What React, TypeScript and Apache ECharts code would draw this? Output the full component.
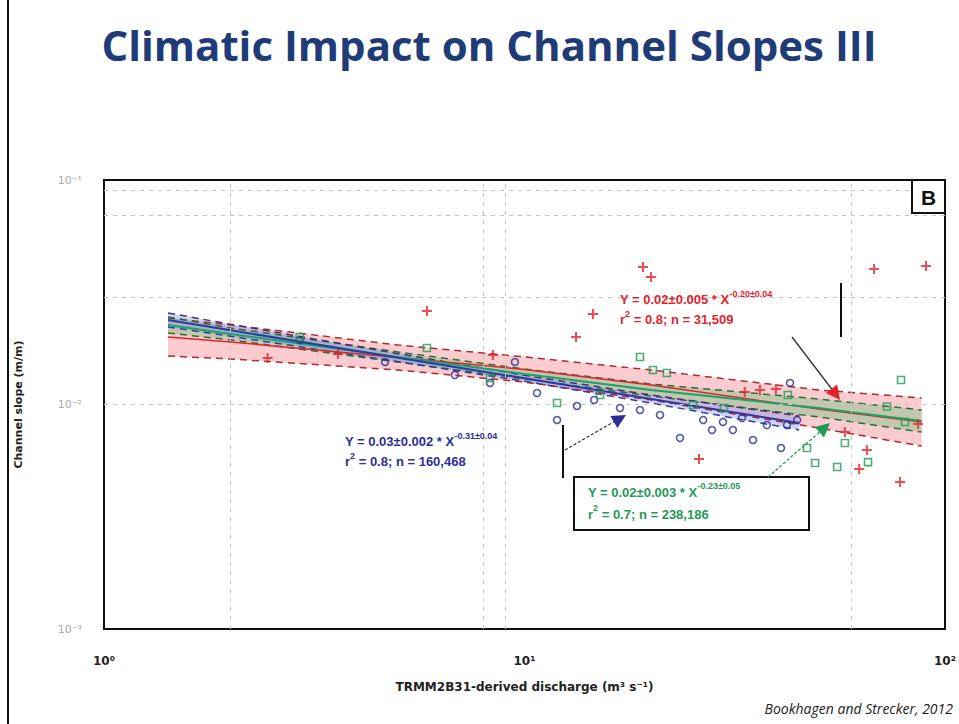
import React, { useEffect, useRef } from "react";
import * as echarts from "echarts";

// ---- Data ----
// discharge (m^3 s^-1) and channel slope (m/m)
const redX = [2.45, 3.6, 5.86, 8.41, 13.26, 14.55, 19.13, 20.0, 26.0, 33.4, 36.3, 39.6, 57.8, 62.5, 65.2, 67.8, 78.2, 86.3, 90.1];
const redY = [0.0161, 0.0168, 0.0261, 0.01662, 0.01999, 0.0253, 0.041, 0.037, 0.00572, 0.01137, 0.01161, 0.01173, 0.00754, 0.00516, 0.00627, 0.0401, 0.00452, 0.00818, 0.0414];

const blueX = [2.92, 4.66, 6.83, 8.28, 9.49, 10.71, 11.95, 13.33, 14.64, 16.87, 18.82, 21.0, 23.43, 26.6, 27.92, 29.65, 31.3, 32.9, 34.95, 37.7, 40.74, 42.1, 42.8, 44.5];
const blueY = [0.01938, 0.01546, 0.01354, 0.01247, 0.01546, 0.01125, 0.00853, 0.00985, 0.01047, 0.00965, 0.00945, 0.00898, 0.00709, 0.00853, 0.0077, 0.00836, 0.0077, 0.00871, 0.00695, 0.0081, 0.0064, 0.0081, 0.01247, 0.00853];

const greenX = [2.92, 5.86, 8.28, 11.95, 15.12, 18.82, 20.2, 21.8, 25.16, 29.8, 42.3, 46.97, 49.1, 55.4, 57.8, 65.6, 72.8, 78.6, 80.3];
const greenY = [0.01999, 0.01785, 0.01312, 0.01015, 0.01102, 0.01628, 0.01425, 0.01381, 0.00995, 0.00965, 0.01102, 0.0064, 0.00549, 0.00527, 0.00674, 0.00554, 0.0098, 0.01285, 0.00836];

// regression fits and confidence bands
const redBandX = [1.42, 2, 5, 10, 20, 50, 88];
const redUpper = [0.02428, 0.0226, 0.01841, 0.01629, 0.01425, 0.01161, 0.01069];
const redLower = [0.01644, 0.01595, 0.01425, 0.01259, 0.01047, 0.00786, 0.00653];
const redFit = [0.01998, 0.01899, 0.0162, 0.01432, 0.01221, 0.00955, 0.00835];

const blueBandX = [1.42, 2, 5, 10, 20, 45];
const blueUpper = [0.02557, 0.02277, 0.01684, 0.01349, 0.01102, 0.00889];
const blueLower = [0.02214, 0.02013, 0.01551, 0.01269, 0.01015, 0.0077];
const blueFit = [0.02378, 0.02141, 0.01616, 0.01309, 0.01058, 0.00827];

const greenBandX = [1.42, 2, 5, 10, 20, 50, 88];
const greenUpper = [0.02453, 0.02192, 0.01714, 0.01439, 0.01234, 0.01058, 0.00945];
const greenLower = [0.02083, 0.01938, 0.01546, 0.01299, 0.01091, 0.0088, 0.00754];
const greenFit = [0.0226, 0.02061, 0.01628, 0.01368, 0.01161, 0.00965, 0.00844];

// extra dashed grid lines
const xGrid = [2, 8, 9, 60];
const yGrid = [0.0893, 0.0713, 0.0301, 0.01, 0.0051];

const xTickLabels: Record<string, string> = { "0": "10⁰", "1": "10¹", "2": "10²" };
const yTickLabels: Record<string, string> = { "-1": "10⁻¹", "-2": "10⁻²", "-3": "10⁻³" };

const redText = ["Y = 0.02±0.005 * X", "-0.20±0.04", "r", "2", " = 0.8; n = 31,509"];
const blueText = ["Y = 0.03±0.002 * X", "-0.31±0.04", "r", "2", " = 0.8; n = 160,468"];
const greenText = ["Y = 0.02±0.003 * X", "-0.23±0.05", "r", "2", " = 0.7; n = 238,186"];

const zip = (xs: number[], ys: number[]) => xs.map((x, i) => [x, ys[i]]);

const RED = "#e5222b";
const BLUE = "#2b2f96";
const GREEN = "#1f9a55";

function bandSeries(xs: number[], up: number[], lo: number[], fill: string) {
  return {
    type: "custom",
    silent: true,
    clip: true,
    z: 1,
    data: [[xs[0], up[0]]],
    renderItem: (_p: any, api: any) => {
      const top = xs.map((x, i) => api.coord([x, up[i]]));
      const bot = xs.map((x, i) => api.coord([x, lo[i]])).reverse();
      return {
        type: "polygon",
        shape: { points: top.concat(bot) },
        style: { fill },
      };
    },
  };
}

function lineSeries(xs: number[], ys: number[], color: string, dashed: boolean, width: number, z: number) {
  return {
    type: "line",
    data: zip(xs, ys),
    showSymbol: false,
    silent: true,
    z,
    lineStyle: { color, width, type: dashed ? [7, 5] : "solid" },
  };
}

function head(fx: number, fy: number, tx: number, ty: number, size: number, color: string) {
  const a = Math.atan2(ty - fy, tx - fx);
  const w = size * 0.5;
  const bx = tx - size * Math.cos(a);
  const by = ty - size * Math.sin(a);
  const px = -Math.sin(a) * w;
  const py = Math.cos(a) * w;
  return {
    type: "polygon",
    z: 100,
    shape: { points: [[tx, ty], [bx + px, by + py], [bx - px, by - py]] },
    style: { fill: color },
  };
}

function richNote(x: number, y: number, t: string[], color: string, lh: number) {
  return {
    type: "text",
    x,
    y,
    z: 100,
    style: {
      text: `{m|${t[0]}}{s|${t[1]}}\n{m|${t[2]}}{s|${t[3]}}{m|${t[4]}}`,
      textVerticalAlign: "top",
      verticalAlign: "top",
      rich: {
        m: { fontSize: 13, fontWeight: "bold", fontFamily: "Liberation Sans", fill: color, color, lineHeight: lh },
        s: { fontSize: 9, fontWeight: "bold", fontFamily: "Liberation Sans", fill: color, color, lineHeight: 11, verticalAlign: "top" },
      },
    },
  };
}

export default function App() {
  const ref = useRef<HTMLDivElement>(null);

  useEffect(() => {
    if (!ref.current) return;
    const chart = echarts.init(ref.current, null, { renderer: "svg" });

    const option: any = {
      animation: false,
      backgroundColor: "#ffffff",
      grid: {
        left: 104,
        top: 180,
        width: 841,
        height: 449,
        show: true,
        borderColor: "#111",
        borderWidth: 2,
        backgroundColor: "transparent",
      },
      xAxis: {
        type: "log",
        logBase: 10,
        min: 1,
        max: 100,
        axisLine: { show: false },
        axisTick: { show: false },
        splitLine: { show: false },
        axisLabel: {
          showMinLabel: true,
          showMaxLabel: true,
          margin: 26,
          color: "#222",
          fontSize: 12,
          fontWeight: "bold",
          fontFamily: "DejaVu Sans",
          formatter: (v: number) => xTickLabels[String(Math.round(Math.log10(v)))] || "",
        },
        name: "TRMM2B31-derived discharge (m³ s⁻¹)",
        nameLocation: "middle",
        nameGap: 52,
        nameTextStyle: { color: "#222", fontSize: 12, fontWeight: "bold", fontFamily: "DejaVu Sans" },
      },
      yAxis: {
        type: "log",
        logBase: 10,
        min: 0.001,
        max: 0.1,
        axisLine: { show: false },
        axisTick: { show: false },
        splitLine: { show: false },
        axisLabel: {
          showMinLabel: true,
          showMaxLabel: true,
          margin: 22,
          color: "#a8a8a8",
          fontSize: 11,
          fontFamily: "DejaVu Sans",
          formatter: (v: number) => yTickLabels[String(Math.round(Math.log10(v)))] || "",
        },
        name: "Channel slope (m/m)",
        nameLocation: "middle",
        nameGap: 80,
        nameTextStyle: { color: "#222", fontSize: 11, fontWeight: "bold", fontFamily: "DejaVu Sans" },
      },
      series: [
        {
          type: "line",
          data: [[1, 0.001]],
          showSymbol: false,
          silent: true,
          lineStyle: { opacity: 0 },
          markLine: {
            silent: true,
            symbol: ["none", "none"],
            label: { show: false },
            lineStyle: { color: "#c4c4c4", width: 1, type: [4, 5] },
            data: [...xGrid.map((v) => ({ xAxis: v })), ...yGrid.map((v) => ({ yAxis: v }))],
          },
        },
        bandSeries(redBandX, redUpper, redLower, "rgba(240,110,120,0.35)"),
        bandSeries(greenBandX, greenUpper, greenLower, "rgba(90,190,110,0.35)"),
        bandSeries(blueBandX, blueUpper, blueLower, "rgba(110,140,230,0.35)"),
        lineSeries(redBandX, redUpper, "#b22a2e", true, 1.5, 3),
        lineSeries(redBandX, redLower, "#b22a2e", true, 1.5, 3),
        lineSeries(greenBandX, greenUpper, "#2a6e3a", true, 1.5, 3),
        lineSeries(greenBandX, greenLower, "#2a6e3a", true, 1.5, 3),
        lineSeries(blueBandX, blueUpper, "#4a2a80", true, 1.5, 3),
        lineSeries(blueBandX, blueLower, "#3a3aa0", true, 1.5, 3),
        lineSeries(redBandX, redFit, RED, false, 1.5, 4),
        lineSeries(greenBandX, greenFit, "#1aa36a", false, 2, 4),
        lineSeries(blueBandX, blueFit, "#2a3aa8", false, 2, 4),
        {
          type: "scatter",
          data: zip(redX, redY),
          symbol: "path://M4,0H6V4H10V6H6V10H4V6H0V4H4Z",
          symbolSize: 10,
          z: 6,
          itemStyle: { color: RED },
        },
        {
          type: "scatter",
          data: zip(blueX, blueY),
          symbol: "circle",
          symbolSize: 7,
          z: 6,
          itemStyle: { color: "rgba(255,255,255,0)", borderColor: BLUE, borderWidth: 1.6 },
        },
        {
          type: "scatter",
          data: zip(greenX, greenY),
          symbol: "rect",
          symbolSize: 7,
          z: 6,
          itemStyle: { color: "rgba(255,255,255,0)", borderColor: GREEN, borderWidth: 1.6 },
        },
      ],
      graphic: [
        { type: "line", z: 100, shape: { x1: 8, y1: 0, x2: 8, y2: 724 }, style: { stroke: "#111", lineWidth: 2 } },
        {
          type: "text",
          x: 489,
          y: 44,
          z: 100,
          style: {
            text: "Climatic Impact on Channel Slopes III",
            font: "bold 42px 'Open Sans'",
            fill: "#1f3c78",
            textAlign: "center",
            align: "center",
            textVerticalAlign: "middle",
            verticalAlign: "middle",
          },
        },
        {
          type: "text",
          x: 953,
          y: 708,
          z: 100,
          style: {
            text: "Bookhagen and Strecker, 2012",
            font: "italic 14px 'Open Sans'",
            fill: "#222",
            textAlign: "right",
            align: "right",
            textVerticalAlign: "middle",
            verticalAlign: "middle",
          },
        },
        // panel label
        { type: "rect", z: 100, shape: { x: 912, y: 180, width: 33, height: 33 }, style: { fill: "#fff", stroke: "#111", lineWidth: 2 } },
        {
          type: "text",
          x: 928.5,
          y: 197,
          z: 101,
          style: { text: "B", font: "bold 21px 'Liberation Sans'", fill: "#111", textAlign: "center", align: "center", textVerticalAlign: "middle", verticalAlign: "middle" },
        },
        // red annotation
        richNote(620, 289, redText, RED, 20),
        { type: "line", z: 100, shape: { x1: 841, y1: 283, x2: 841, y2: 337 }, style: { stroke: "#111", lineWidth: 2 } },
        { type: "line", z: 100, shape: { x1: 792, y1: 337, x2: 834, y2: 392 }, style: { stroke: "#333", lineWidth: 1.3 } },
        head(792, 337, 840, 400, 14, RED),
        // blue annotation
        richNote(345, 431, blueText, BLUE, 20),
        { type: "line", z: 100, shape: { x1: 563, y1: 425, x2: 563, y2: 478 }, style: { stroke: "#111", lineWidth: 2 } },
        { type: "line", z: 100, shape: { x1: 565, y1: 450, x2: 617, y2: 420 }, style: { stroke: "#333", lineWidth: 1.3, lineDash: [3, 2] } },
        head(565, 450, 626, 415, 14, BLUE),
        // green annotation box
        { type: "rect", z: 100, shape: { x: 574, y: 477, width: 235, height: 53 }, style: { fill: "#fff", stroke: "#111", lineWidth: 2 } },
        richNote(588, 481, greenText, GREEN, 22),
        { type: "line", z: 100, shape: { x1: 768, y1: 477, x2: 822, y2: 430 }, style: { stroke: GREEN, lineWidth: 1.3, lineDash: [3, 2] } },
        head(768, 477, 830, 423, 14, GREEN),
      ],
    };

    chart.setOption(option);
    return () => chart.dispose();
  }, []);

  return (
    <div
      ref={ref}
      style={{ position: "fixed", left: 0, top: 0, width: 959, height: 724, background: "#fff" }}
    />
  );
}
